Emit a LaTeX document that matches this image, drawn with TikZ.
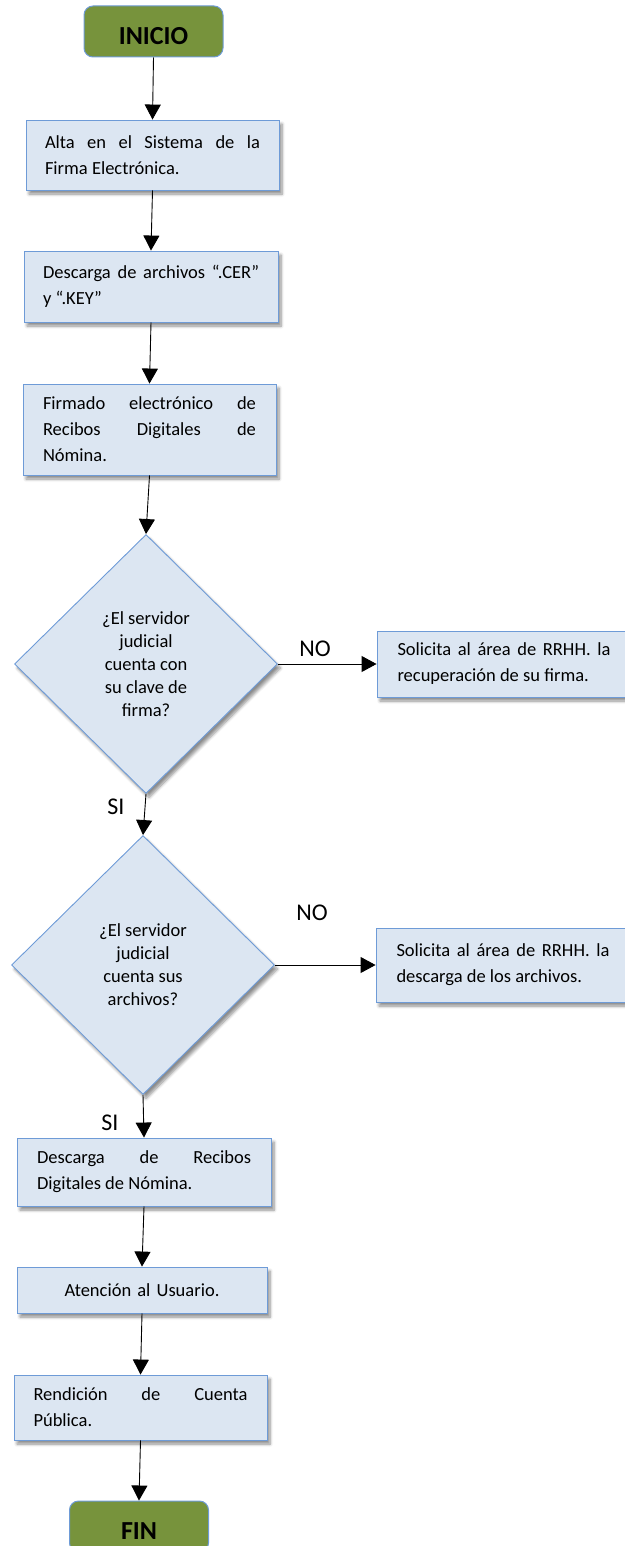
\documentclass[tikz,border=0pt]{standalone}
\usepackage{fontspec}
\setmainfont{Carlito}
\usetikzlibrary{shapes.geometric,arrows.meta,shadows,shadows.blur}
\definecolor{boxfill}{RGB}{220,230,242}
\definecolor{boxline}{RGB}{110,155,215}
\definecolor{termfill}{RGB}{119,147,60}
\begin{document}
\begin{tikzpicture}[x=1pt,y=-1pt,
  nohyph/.style={execute at begin node={\hyphenpenalty=10000\exhyphenpenalty=10000}},
  softshadow/.style={blur shadow={shadow xshift=3pt, shadow yshift=-4pt,
    shadow blur steps=6, shadow blur radius=3pt, shadow opacity=45}},
  proc/.style={rectangle, draw=boxline, line width=0.9pt, fill=boxfill, softshadow,
    align=justify, inner ysep=0pt, nohyph, font=\fontsize{18.5}{26}\selectfont},
  term/.style={rectangle, rounded corners=9pt, draw=boxline, line width=1pt, fill=termfill,
    font=\bfseries\fontsize{26}{30}\selectfont, minimum width=139pt, minimum height=51pt,
    text height=26pt, text depth=0pt, inner sep=0pt},
  decision/.style={diamond, draw=boxline, line width=0.9pt, fill=boxfill, softshadow,
    minimum width=263pt, minimum height=259pt, inner sep=0pt, align=center, nohyph,
    font=\fontsize{18.5}{23}\selectfont},
  lbl/.style={font=\fontsize{24}{28}\selectfont, inner sep=0pt},
  arr/.style={-{Triangle[width=16pt,length=15pt]}, line width=0.9pt, black}]
\useasboundingbox (0,0) rectangle (624,1546);

\node[term] (inicio) at (153.5,31.5) {INICIO};
\node[proc, text width=215pt, inner xsep=19pt, minimum height=70pt] (b1) at (152.5,155)
  {Alta en el Sistema de la\linebreak Firma Electrónica.};
\node[proc, text width=216pt, inner xsep=19pt, minimum height=71pt] (b2) at (151,286.5)
  {Descarga de archivos “.CER”\linebreak y “.KEY”};
\node[proc, text width=213pt, inner xsep=20pt, minimum height=91pt] (b3) at (149.5,429.5)
  {Firmado electrónico de\linebreak Recibos Digitales de\linebreak Nómina.};
\node[decision] (d1) at (146,664)
  {¿El servidor\\judicial\\cuenta con\\su clave de\\firma?};
\node[proc, text width=213pt, inner xsep=20.5pt, minimum height=66pt] (n1) at (504,664)
  {Solicita al área de RRHH. la\linebreak recuperación de su firma.};
\node[decision] (d2) at (143,965)
  {¿El servidor\\judicial\\cuenta sus\\archivos?};
\node[proc, text width=213pt, inner xsep=20.5pt, minimum height=74pt] (n2) at (503,965)
  {Solicita al área de RRHH. la\linebreak descarga de los archivos.};
\node[proc, text width=214pt, inner xsep=20pt, minimum height=68pt] (b4) at (144,1172)
  {Descarga de Recibos\linebreak Digitales de Nómina.};
\node[proc, text width=210pt, inner xsep=20pt, minimum height=46pt, align=center] (b5) at (142,1290)
  {Atención al Usuario.};
\node[proc, text width=214pt, inner xsep=19.5pt, minimum height=65pt] (b6) at (140.5,1407.5)
  {Rendición de Cuenta\linebreak Pública.};
\node[term] (fin) at (139,1526.5) {FIN};

\node[lbl] (lno1) at (315,649) {NO};
\node[lbl] (lno2) at (312,913) {NO};
\node[lbl] (lsi1) at (116,807) {SI};
\node[lbl] (lsi2) at (110,1123) {SI};

\draw[arr] (inicio.south) -- (b1.north);
\draw[arr] (b1.south) -- (b2.north);
\draw[arr] (b2.south) -- (b3.north);
\draw[arr] (b3.south) -- (d1.north);
\draw[arr] (d1.east) -- (n1.west);
\draw[arr] (d1.south) -- (d2.north);
\draw[arr] (d2.east) -- (n2.west);
\draw[arr] (d2.south) -- (b4.north);
\draw[arr] (b4.south) -- (b5.north);
\draw[arr] (b5.south) -- (b6.north);
\draw[arr] (b6.south) -- (fin.north);
\end{tikzpicture}
\end{document}
